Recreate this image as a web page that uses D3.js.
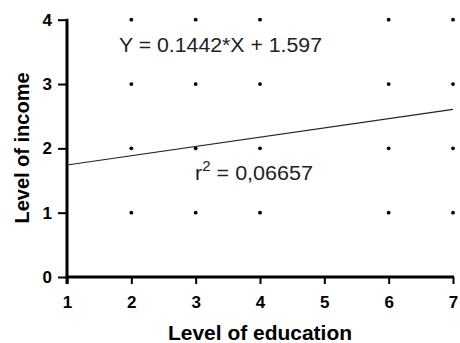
<!DOCTYPE html>
<html>
  <head>
    <meta charset="utf-8">
    <title>Education vs income</title>
    <script src="https://d3js.org/d3.v7.min.js"></script>
    <style>
      body { margin: 0; background: #fff; }
      text { font-family: Arial, "Liberation Sans", sans-serif; }
    </style>
  </head>
  <body>
    <div id="chart"></div>
    <script>
      // scatter points (education, income)
      const education = [2, 3, 4, 6, 7, 2, 3, 4, 6, 7, 2, 3, 4, 6, 7, 2, 3, 4, 6, 7];
      const income    = [4, 4, 4, 4, 4, 3, 3, 3, 3, 3, 2, 2, 2, 2, 2, 1, 1, 1, 1, 1];
      const xTicks = [1, 2, 3, 4, 5, 6, 7];
      const yTicks = [0, 1, 2, 3, 4];
      const slope = 0.1442;
      const intercept = 1.597;
      const rSquared = "0,06657";

      const width = 460, height = 343;
      const svg = d3.select("#chart")
        .append("svg")
        .attr("width", width)
        .attr("height", height);

      const x = d3.scaleLinear().domain([1, 7]).range([67, 453]);
      const y = d3.scaleLinear().domain([0, 4]).range([277, 19.7]);

      // axes
      const xAxis = svg.append("g")
        .attr("transform", `translate(0,${y(0)})`)
        .call(d3.axisBottom(x).tickValues(xTicks).tickSize(7).tickPadding(12).tickFormat(d3.format("d")));
      const yAxis = svg.append("g")
        .attr("transform", `translate(${x(1)},0)`)
        .call(d3.axisLeft(y).tickValues(yTicks).tickSize(9).tickPadding(6).tickFormat(d3.format("d")));

      [xAxis, yAxis].forEach(g => {
        g.select(".domain").remove();
        g.selectAll(".tick line").attr("stroke", "#000").attr("stroke-width", 2);
        g.selectAll(".tick text")
          .attr("fill", "#000")
          .attr("font-size", 17)
          .attr("font-weight", "bold");
      });
      // axis lines
      svg.append("line")
        .attr("x1", x(1) - 1.5).attr("x2", x(7) + 1)
        .attr("y1", y(0)).attr("y2", y(0))
        .attr("stroke", "#000").attr("stroke-width", 3);
      svg.append("line")
        .attr("x1", x(1)).attr("x2", x(1))
        .attr("y1", y(4) - 1).attr("y2", y(0) + 7)
        .attr("stroke", "#000").attr("stroke-width", 3);

      // dots
      svg.selectAll("circle.pt")
        .data(education)
        .join("circle")
        .attr("class", "pt")
        .attr("cx", d => x(d))
        .attr("cy", (_, i) => y(income[i]))
        .attr("r", 1.9)
        .attr("fill", "#000");

      // regression line
      svg.append("line")
        .attr("x1", x(1)).attr("y1", y(slope * 1 + intercept))
        .attr("x2", x(7)).attr("y2", y(slope * 7 + intercept))
        .attr("stroke", "#222")
        .attr("stroke-width", 1.1);

      // annotations
      svg.append("text")
        .attr("x", 119).attr("y", 52)
        .attr("font-size", 20)
        .attr("fill", "#222")
        .attr("textLength", 203)
        .attr("lengthAdjust", "spacingAndGlyphs")
        .text(`Y = ${slope}*X + ${intercept}`);

      const r2 = svg.append("text")
        .attr("x", 195).attr("y", 180)
        .attr("font-size", 20)
        .attr("fill", "#222")
        .attr("textLength", 118)
        .attr("lengthAdjust", "spacingAndGlyphs");
      r2.append("tspan").text("r");
      r2.append("tspan").attr("dy", -9).attr("font-size", 14).text("2");
      r2.append("tspan").attr("dy", 9).text(` = ${rSquared}`);

      // axis titles
      svg.append("text")
        .attr("x", 260).attr("y", 340)
        .attr("text-anchor", "middle")
        .attr("font-size", 20)
        .attr("font-weight", "bold")
        .attr("textLength", 184)
        .attr("lengthAdjust", "spacingAndGlyphs")
        .text("Level of education");
      svg.append("text")
        .attr("transform", "translate(29,148) rotate(-90)")
        .attr("text-anchor", "middle")
        .attr("font-size", 20)
        .attr("font-weight", "bold")
        .text("Level of income");
    </script>
  </body>
</html>
